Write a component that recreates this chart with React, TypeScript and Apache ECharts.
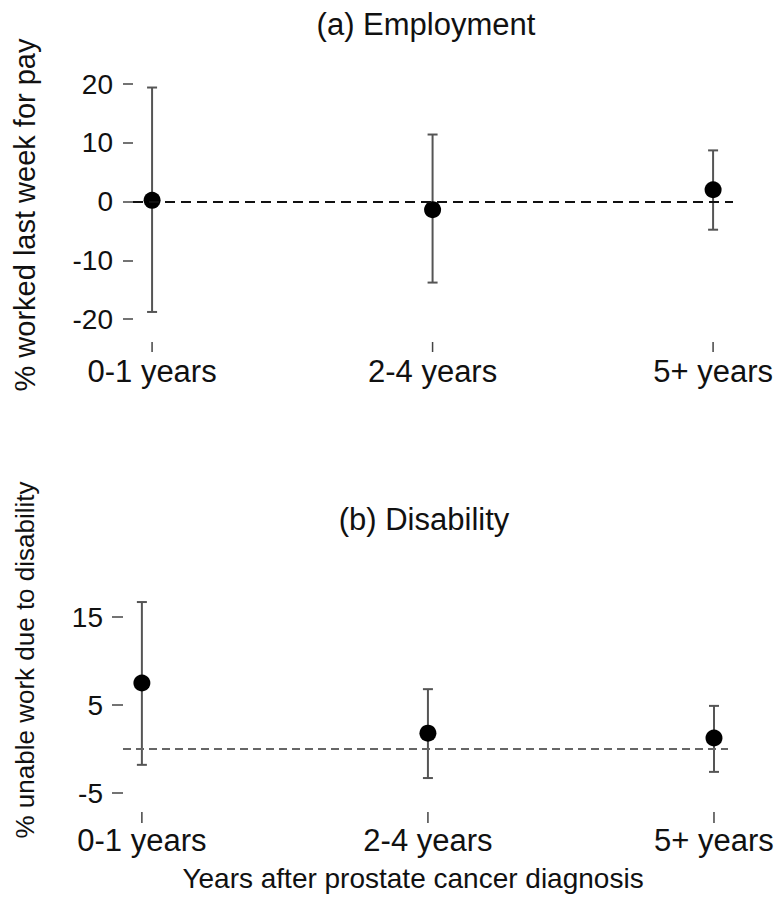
import React, { useEffect, useRef } from "react";
import * as echarts from "echarts";

const categories = ["0-1 years", "2-4 years", "5+ years"];
const empEstimate = [0.2, -1.4, 2.0];
const empLower = [-18.8, -13.8, -4.8];
const empUpper = [19.4, 11.4, 8.7];
const disEstimate = [7.5, 1.8, 1.25];
const disLower = [-1.8, -3.3, -2.6];
const disUpper = [16.7, 6.8, 4.9];
const empTicks = [-20, -10, 0, 10, 20];
const disTicks = [-5, 5, 15];
const catPositions = [1, 2, 3];

const FONT = "Liberation Sans, Arial, sans-serif";

function errorBarItem(params: any, api: any) {
  const x = api.value(0);
  const lo = api.coord([x, api.value(1)]);
  const hi = api.coord([x, api.value(2)]);
  const cap = 5;
  const style = { stroke: "#555", lineWidth: 2 };
  return {
    type: "group",
    children: [
      { type: "line", shape: { x1: lo[0], y1: lo[1], x2: hi[0], y2: hi[1] }, style },
      { type: "line", shape: { x1: lo[0] - cap, y1: lo[1], x2: lo[0] + cap, y2: lo[1] }, style },
      { type: "line", shape: { x1: hi[0] - cap, y1: hi[1], x2: hi[0] + cap, y2: hi[1] }, style },
    ],
  };
}

const xTickItem = (gap: number, len: number) => (params: any, api: any) => {
  const p = api.coord([api.value(0), api.value(1)]);
  return {
    type: "line",
    shape: { x1: p[0], y1: p[1] + gap, x2: p[0], y2: p[1] + gap + len },
    style: { stroke: "#444", lineWidth: 1.5 },
  };
};

export default function App() {
  const ref = useRef<HTMLDivElement>(null);
  useEffect(() => {
    document.body.style.margin = "0";
    const chart = echarts.init(ref.current!, undefined, { renderer: "svg" });
    const xAxisBase = (gridIndex: number, min: number, max: number, offset: number, margin: number) => ({
      type: "value",
      gridIndex,
      min,
      max,
      offset,
      splitLine: { show: false },
      axisLine: { show: false },
      axisTick: { show: false },
      axisLabel: {
        show: true,
        customValues: catPositions,
        formatter: (v: number) => categories[Math.round(v) - 1] ?? "",
        margin,
        fontSize: 31,
        fontFamily: FONT,
        color: "#111",
      },
    });
    const yAxisBase = (gridIndex: number, min: number, max: number, ticks: number[], tickLen: number) => ({
      type: "value",
      gridIndex,
      min,
      max,
      splitLine: { show: false },
      axisLine: { show: false },
      axisTick: { show: true, customValues: ticks, length: tickLen, lineStyle: { color: "#444", width: 1.5 } },
      axisLabel: {
        show: true,
        customValues: ticks,
        margin: 20,
        fontSize: 28,
        fontFamily: FONT,
        color: "#111",
      },
    });
    const empBars = categories.map((c, i) => [catPositions[i], empLower[i], empUpper[i]]);
    const disBars = categories.map((c, i) => [catPositions[i], disLower[i], disUpper[i]]);
    const empPts = categories.map((c, i) => [catPositions[i], empEstimate[i]]);
    const disPts = categories.map((c, i) => [catPositions[i], disEstimate[i]]);
    const empMin = -20;
    const disMin = -5;

    chart.setOption({
      animation: false,
      grid: [
        { left: 133, width: 600, top: 84, height: 235 },
        { left: 123, width: 605, top: 599.4, height: 193.6 },
      ],
      xAxis: [xAxisBase(0, 0.932, 3.071, 23, 14), xAxisBase(1, 0.934, 3.049, 19, 13)],
      yAxis: [yAxisBase(0, empMin, 20, empTicks, 10), yAxisBase(1, disMin, 17, disTicks, 11)],
      graphic: [
        { type: "text", x: 426, y: 24, style: { text: "(a) Employment", font: `31px ${FONT}`, fill: "#111", align: "center", verticalAlign: "middle" } },
        { type: "text", x: 424, y: 519, style: { text: "(b) Disability", font: `31px ${FONT}`, fill: "#111", align: "center", verticalAlign: "middle" } },
        { type: "text", x: 413, y: 878, style: { text: "Years after prostate cancer diagnosis", font: `28px ${FONT}`, fill: "#111", align: "center", verticalAlign: "middle" } },
        { type: "text", x: 25, y: 215, rotation: Math.PI / 2, style: { text: "% worked last week for pay", font: `29px ${FONT}`, fill: "#111", align: "center", verticalAlign: "middle" } },
        { type: "text", x: 25, y: 660, rotation: Math.PI / 2, style: { text: "% unable work due to disability", font: `26px ${FONT}`, fill: "#111", align: "center", verticalAlign: "middle" } },
      ],
      series: [
        {
          type: "custom",
          xAxisIndex: 0,
          yAxisIndex: 0,
          renderItem: xTickItem(23, 10),
          data: catPositions.map((x) => [x, empMin]),
          z: 1,
        },
        {
          type: "custom",
          xAxisIndex: 1,
          yAxisIndex: 1,
          renderItem: xTickItem(19, 11),
          data: catPositions.map((x) => [x, disMin]),
          z: 1,
        },
        {
          type: "custom",
          xAxisIndex: 0,
          yAxisIndex: 0,
          renderItem: errorBarItem,
          encode: { x: 0, y: [1, 2] },
          data: empBars,
          z: 2,
          markLine: {
            silent: true,
            symbol: "none",
            label: { show: false },
            lineStyle: { color: "#111", type: [10, 6], width: 2 },
            data: [{ yAxis: 0 }],
          },
        },
        {
          type: "scatter",
          xAxisIndex: 0,
          yAxisIndex: 0,
          symbolSize: 17,
          itemStyle: { color: "#000", opacity: 1 },
          data: empPts,
          z: 4,
        },
        {
          type: "custom",
          xAxisIndex: 1,
          yAxisIndex: 1,
          renderItem: errorBarItem,
          encode: { x: 0, y: [1, 2] },
          data: disBars,
          z: 2,
          markLine: {
            silent: true,
            symbol: "none",
            label: { show: false },
            lineStyle: { color: "#666", type: [8, 5], width: 2 },
            data: [{ yAxis: 0 }],
          },
        },
        {
          type: "scatter",
          xAxisIndex: 1,
          yAxisIndex: 1,
          symbolSize: 17,
          itemStyle: { color: "#000", opacity: 1 },
          data: disPts,
          z: 4,
        },
      ],
    });
    return () => chart.dispose();
  }, []);
  return <div ref={ref} style={{ width: 779, height: 906 }} />;
}
